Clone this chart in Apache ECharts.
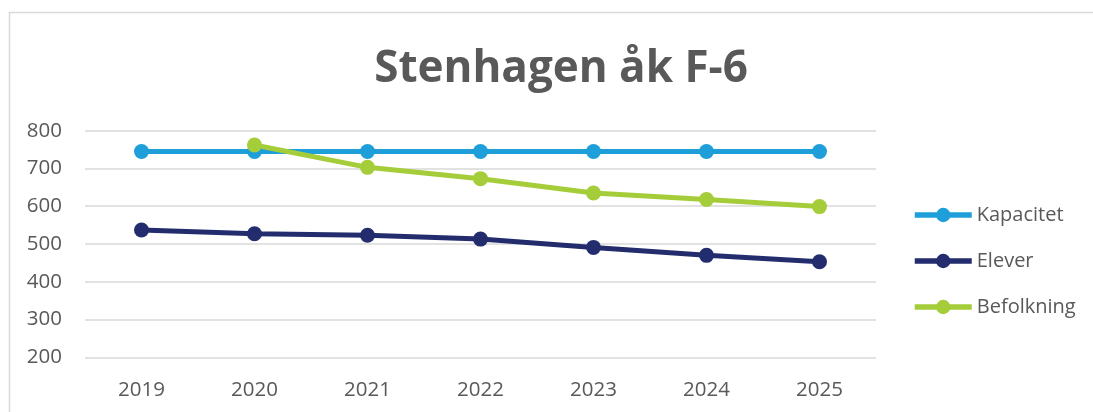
<!DOCTYPE html>
<html>
<head>
<meta charset="utf-8">
<style>
html,body{margin:0;padding:0;background:#fff;}
#chart{width:1093px;height:412px;}
</style>
<script src="https://cdn.jsdelivr.net/npm/echarts@6/dist/echarts.min.js"></script>
</head>
<body>
<div id="chart"></div>
<script>
const titleText = "Stenhagen åk F-6";
const categories = ["2019", "2020", "2021", "2022", "2023", "2024", "2025"];
const kapacitet = [745, 745, 745, 745, 745, 745, 745];
const elever = [537, 527, 523, 513, 491, 470, 453];
const befolkning = [null, 762, 703, 673, 635, 618, 599];
const yTicks = {min: 200, max: 800, interval: 100};

const FONT = "'Open Sans', 'Noto Sans', sans-serif";
const TXT = "#595959";
const chart = echarts.init(document.getElementById('chart'), null, {renderer: 'canvas'});

function lineSeries(name, data, color) {
  return {
    name: name, type: 'line', data: data,
    symbol: 'circle', symbolSize: 15,
    connectNulls: false,
    lineStyle: {color: color, width: 5},
    itemStyle: {color: color},
    emphasis: {disabled: true},
    animation: false
  };
}

chart.setOption({
  animation: false,
  backgroundColor: '#fff',
  graphic: [{
    type: 'rect', silent: true,
    shape: {x: 9.5, y: 12.5, width: 1200, height: 600},
    style: {fill: 'none', stroke: '#d9d9d9', lineWidth: 1.5}
  }],
  title: {
    text: titleText,
    left: 556, top: 42, textAlign: 'center',
    textStyle: {fontFamily: FONT, fontWeight: 'bold', fontSize: 44, color: TXT}
  },
  grid: {left: 85, right: 217, top: 130.7, bottom: 54.7, containLabel: false},
  xAxis: {
    type: 'category', data: categories, boundaryGap: true,
    axisLine: {show: false}, axisTick: {show: false},
    axisLabel: {fontFamily: FONT, fontSize: 20.5, color: TXT, margin: 22}
  },
  yAxis: {
    type: 'value', min: yTicks.min, max: yTicks.max, interval: yTicks.interval,
    axisLine: {show: false}, axisTick: {show: false},
    axisLabel: {fontFamily: FONT, fontSize: 20.5, color: TXT, margin: 23},
    splitLine: {lineStyle: {color: '#d9d9d9', width: 1.5}}
  },
  legend: {
    orient: 'vertical', left: 907, top: 200, padding: 5,
    itemWidth: 57, itemHeight: 18, itemGap: 26,
    lineStyle: {width: 5.5},
    textStyle: {fontFamily: FONT, fontSize: 20, color: TXT, lineHeight: 20},
    data: ['Kapacitet', 'Elever', 'Befolkning']
  },
  series: [
    lineSeries('Kapacitet', kapacitet, '#1E9FD9'),
    lineSeries('Elever', elever, '#232D6E'),
    lineSeries('Befolkning', befolkning, '#A5CD39')
  ]
});
</script>
</body>
</html>
